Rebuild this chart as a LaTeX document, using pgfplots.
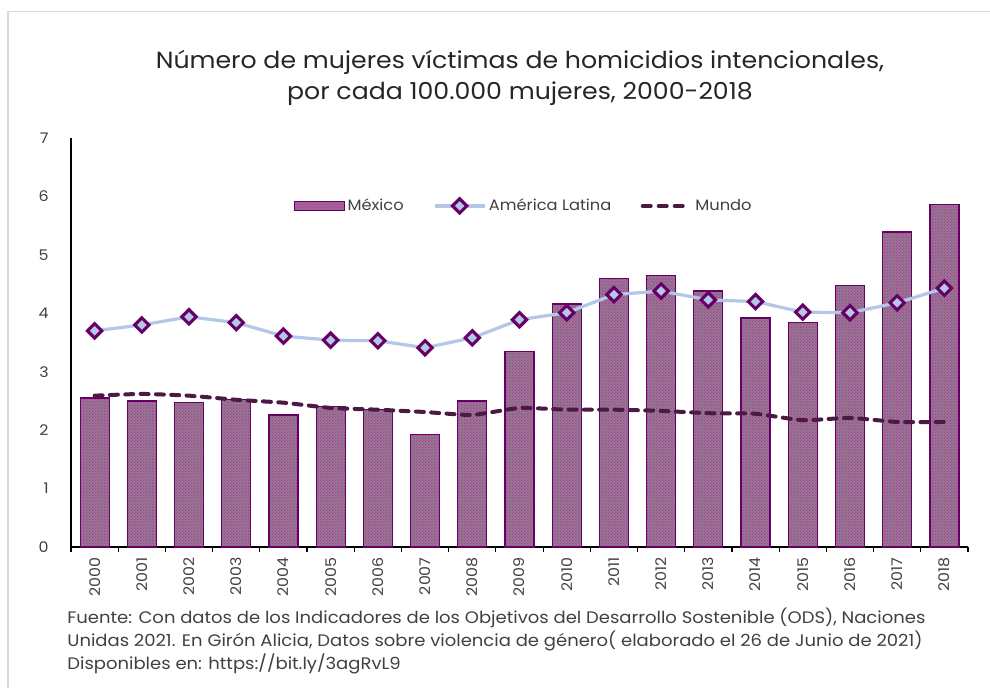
\documentclass[border=0pt]{standalone}
\usepackage{pgfplots}
\pgfplotsset{compat=1.18}
\usepackage{fontspec}
\setmainfont{Poppins}[FakeStretch=1.08]
\usetikzlibrary{patterns}
\definecolor{barfill}{HTML}{858585}
\definecolor{bardot}{HTML}{E010C0}
\definecolor{baredge}{HTML}{660066}
\definecolor{latline}{HTML}{B4C7E7}
\definecolor{latmark}{HTML}{660066}
\definecolor{mundo}{HTML}{4A1A45}
\definecolor{txt}{HTML}{404040}
\definecolor{ttl}{HTML}{262626}
\definecolor{frame}{HTML}{D9D9D9}
\pgfdeclarepatternformonly{mydots}{\pgfpoint{0pt}{0pt}}{\pgfpoint{2.4pt}{2.4pt}}{\pgfpoint{2.4pt}{2.4pt}}{%
  \pgfpathcircle{\pgfpoint{0.6pt}{0.6pt}}{0.58pt}%
  \pgfpathcircle{\pgfpoint{1.8pt}{1.8pt}}{0.58pt}%
  \pgfusepath{fill}}
\pgfplotsset{
  barlegend/.style={legend image code/.code={\draw[draw=baredge, line width=0.9pt, fill=barfill, postaction={pattern=mydots, pattern color=bardot}] (0pt,-3.5pt) rectangle (37.5pt,3.5pt);}},
  latlegend/.style={legend image code/.code={\draw[##1, mark repeat=2, mark phase=2] plot coordinates {(0pt,0pt) (18.75pt,0pt) (37.5pt,0pt)};}},
  mundolegend/.style={legend image code/.code={\draw[mundo, line width=3pt, line cap=round, dash pattern=on 6pt off 6pt] (1.5pt,0pt) -- (37.5pt,0pt);}},
}
\begin{document}
\begin{tikzpicture}
\useasboundingbox (0pt,0pt) rectangle (742.5pt,515.25pt);
\draw[frame, line width=1.1pt] (6pt,-5pt) -- (6pt,506.5pt) -- (760pt,506.5pt);
\node[align=center, text=ttl, font=\fontsize{17.5pt}{23.25pt}\selectfont] at (390pt,457.1pt)
 {Número de mujeres víctimas de homicidios intencionales,\\ por cada 100.000 mujeres, 2000-2018};
\begin{axis}[
  at={(53.25pt,105pt)}, anchor=south west,
  scale only axis, width=672.75pt, height=306.75pt,
  xmin=-0.5, xmax=18.5, ymin=0, ymax=7,
  axis x line*=bottom, axis y line*=left,
  axis line style={-, black, line width=0.9pt},
  xtick={0,...,18},
  xticklabels={2000,2001,2002,2003,2004,2005,2006,2007,2008,2009,2010,2011,2012,2013,2014,2015,2016,2017,2018},
  minor xtick={-0.5,0.5,...,18.5},
  major x tick style={draw=none},
  minor x tick style={black, line width=0.9pt},
  minor tick length=4pt,
  tick align=outside,
  ytick={0,...,7},
  ytick style={draw=none},
  yticklabel shift=9pt,
  xticklabel style={rotate=90, anchor=east, text=txt, font=\fontsize{11pt}{13pt}\selectfont},
  yticklabel style={text=txt, font=\fontsize{11pt}{13pt}\selectfont},
  /pgf/number format/assume math mode=true,
  legend columns=3,
  legend style={at={(0.505,0.834)}, anchor=center, draw=none, fill=none,
    font=\fontsize{11.3pt}{13pt}\selectfont, text=txt,
    /tikz/every even column/.append style={column sep=20pt}},
  clip=false,
]
\addplot[ybar, bar width=21.75pt, draw=baredge, line width=0.9pt, fill=barfill,
  postaction={pattern=mydots, pattern color=bardot}, barlegend]
coordinates {(0,2.55) (1,2.50) (2,2.47) (3,2.52) (4,2.26) (5,2.41) (6,2.35) (7,1.93) (8,2.50) (9,3.34) (10,4.16) (11,4.59) (12,4.64) (13,4.38) (14,3.92) (15,3.84) (16,4.47) (17,5.39) (18,5.86)};
\addlegendentry{México}
\addplot[latline, line width=2.4pt, mark=square*, mark size=3.8pt,
  mark options={draw=latmark, fill=latline, line width=2.3pt, rotate=45}, latlegend]
coordinates {(0,3.70) (1,3.80) (2,3.94) (3,3.84) (4,3.61) (5,3.54) (6,3.53) (7,3.41) (8,3.58) (9,3.89) (10,4.01) (11,4.32) (12,4.38) (13,4.23) (14,4.20) (15,4.02) (16,4.01) (17,4.18) (18,4.43)};
\addlegendentry{América Latina}
\addplot[mundo, line width=3pt, line cap=round, dash pattern=on 6pt off 5.5pt, smooth, tension=0.3, mundolegend]
coordinates {(0,2.59) (1,2.62) (2,2.59) (3,2.52) (4,2.47) (5,2.38) (6,2.35) (7,2.31) (8,2.26) (9,2.38) (10,2.35) (11,2.35) (12,2.33) (13,2.29) (14,2.28) (15,2.17) (16,2.21) (17,2.14) (18,2.14)};
\addlegendentry{Mundo}
\end{axis}
\node[anchor=base west, text=txt, font=\fontsize{12.5pt}{14pt}\selectfont] at (47pt,48pt) {Fuente: Con datos de los Indicadores de los Objetivos del Desarrollo Sostenible (ODS), Naciones};
\node[anchor=base west, text=txt, font=\fontsize{12.5pt}{14pt}\selectfont] at (47pt,30.4pt) {Unidas 2021. En Girón Alicia, Datos sobre violencia de género( elaborado el 26 de Junio de 2021)};
\node[anchor=base west, text=txt, font=\fontsize{12.5pt}{14pt}\selectfont] at (47pt,12.8pt) {Disponibles en: https://bit.ly/3agRvL9};
\end{tikzpicture}
\end{document}
